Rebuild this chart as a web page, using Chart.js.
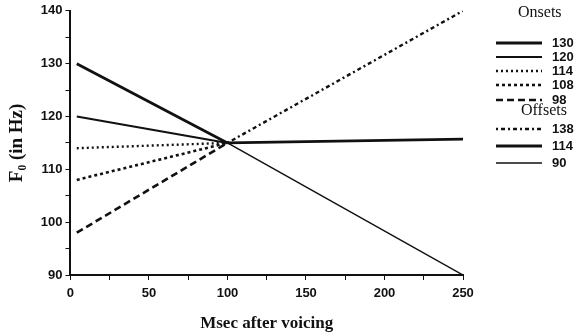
<!DOCTYPE html>
<html>
<head>
<meta charset="utf-8">
<script src="https://cdn.jsdelivr.net/npm/chart.js@4"></script>
<style>
  html, body { margin: 0; padding: 0; background: #fff; }
  #wrap { width: 582px; height: 334px; position: relative; }
</style>
</head>
<body>
<div id="wrap"><canvas id="f0Chart" width="582" height="334"></canvas></div>
<script>
// values
const onsetLabels = ["130", "120", "114", "108", "98"];
const onsetStart = [130, 120, 114, 108, 98];
const offsetLabels = ["138", "114", "90"];
const offsetEnd = [140, 115.7, 90];
const startMs = 4;
const pivotMs = 100;
const pivotHz = 115;
const endMs = 250;

const onsetStyles = [
    { width: 2.8, dash: [] },
    { width: 2, dash: [] },
    { width: 2.4, dash: [2, 3] },
    { width: 2.6, dash: [3, 3] },
    { width: 2.6, dash: [7, 4] }
];
const offsetStyles = [
    { width: 2.4, dash: [2, 3, 4, 3] },
    { width: 2.8, dash: [] },
    { width: 1.5, dash: [] }
];

const datasets = [];
onsetStart.forEach((v, i) => {
    datasets.push({
        label: onsetLabels[i],
        data: [{ x: startMs, y: v }, { x: pivotMs, y: pivotHz }],
        borderColor: "#111",
        borderWidth: onsetStyles[i].width,
        borderDash: onsetStyles[i].dash,
        pointRadius: 0
    });
});
offsetEnd.forEach((v, i) => {
    datasets.push({
        label: offsetLabels[i],
        data: [{ x: pivotMs, y: pivotHz }, { x: endMs, y: v }],
        borderColor: "#111",
        borderWidth: offsetStyles[i].width,
        borderDash: offsetStyles[i].dash,
        pointRadius: 0
    });
});

/* legend drawn on the right side */
const sideLegend = {
    id: "sideLegend",
    afterDraw(chart) {
        const ctx = chart.ctx;
        ctx.save();
        ctx.fillStyle = "#111";
        ctx.strokeStyle = "#111";
        ctx.textBaseline = "middle";
        ctx.font = "16px 'Liberation Serif'";
        ctx.textAlign = "left";
        ctx.fillText("Onsets", 518, 13);
        ctx.fillText("Offsets", 521, 111);
        ctx.font = "bold 13px 'Liberation Sans'";
        const rows = [43, 57, 71, 85, 100, 129, 146, 163];
        chart.data.datasets.forEach((ds, i) => {
            const y = rows[i];
            ctx.lineWidth = ds.borderWidth;
            ctx.setLineDash(ds.borderDash);
            ctx.beginPath();
            ctx.moveTo(496, y);
            ctx.lineTo(542, y);
            ctx.stroke();
            ctx.setLineDash([]);
            ctx.fillText(ds.label, 552, y);
        });
        ctx.restore();
    }
};

new Chart(document.getElementById("f0Chart"), {
    type: "line",
    data: { datasets },
    options: {
        responsive: false,
        animation: false,
        layout: { padding: { left: 2, top: 5, right: 119, bottom: 0 } },
        plugins: { legend: { display: false }, tooltip: { enabled: false } },
        scales: {
            x: {
                type: "linear",
                min: 0,
                max: 250,
                ticks: {
                    stepSize: 25,
                    color: "#111",
                    padding: 6,
                    font: { family: "Liberation Sans", size: 13, weight: "bold" },
                    callback: v => (v % 50 === 0 ? v : "")
                },
                grid: { drawOnChartArea: false, tickLength: 5, tickColor: "#111" },
                border: { color: "#111", width: 2 },
                title: {
                    display: true,
                    text: "Msec after voicing",
                    color: "#111",
                    font: { family: "Liberation Serif", size: 17, weight: "bold" },
                    padding: { top: 6, bottom: 0 }
                }
            },
            y: {
                min: 90,
                max: 140,
                ticks: {
                    stepSize: 5,
                    color: "#111",
                    font: { family: "Liberation Sans", size: 13, weight: "bold" },
                    callback: v => (v % 10 === 0 ? v : "")
                },
                grid: { drawOnChartArea: false, tickLength: 5, tickColor: "#111" },
                border: { color: "#111", width: 2 },
                title: {
                    display: true,
                    text: "F₀ (in Hz)",
                    color: "#111",
                    font: { family: "Liberation Serif", size: 19, weight: "bold" },
                    padding: { bottom: 9 }
                }
            }
        }
    },
    plugins: [sideLegend]
});
</script>
</body>
</html>
